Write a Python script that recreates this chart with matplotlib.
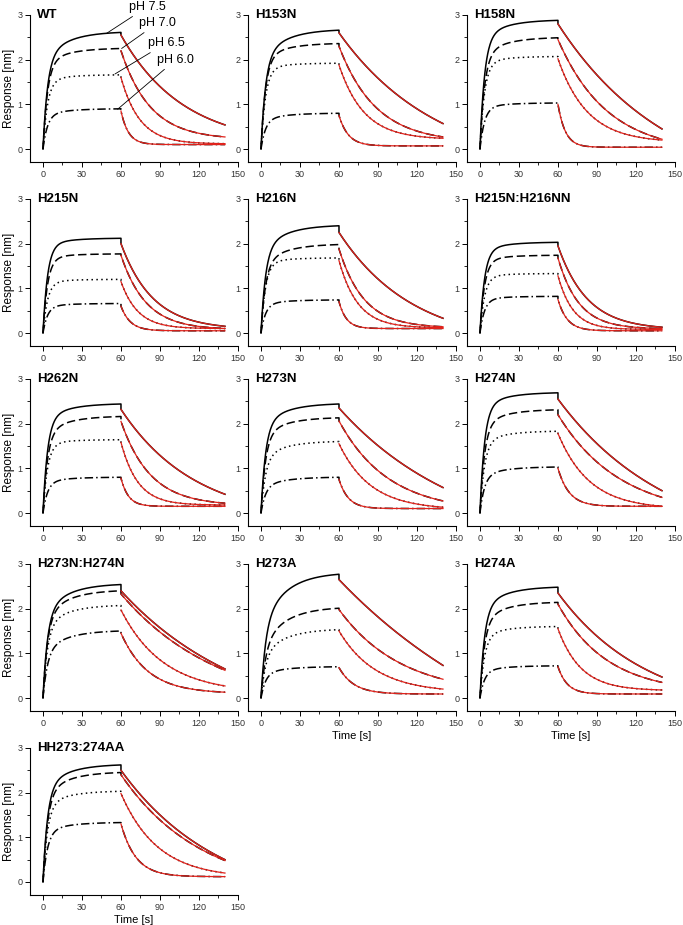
import numpy as np
import matplotlib
matplotlib.use("Agg")
import matplotlib.pyplot as plt

plt.rcParams['font.family'] = ['Liberation Sans', 'DejaVu Sans']

# ---------------- data ----------------
panels = ["WT", "H153N", "H158N", "H215N", "H216N", "H215N:H216NN",
          "H262N", "H273N", "H274N", "H273N:H274N", "H273A", "H274A",
          "HH273:274AA"]
ph_labels = ["pH 7.5", "pH 7.0", "pH 6.5", "pH 6.0"]

# response [nm] at end of association (60 s), per pH (7.5, 7.0, 6.5, 6.0)
peak_60s = [
    [2.61, 2.25, 1.66, 0.90], [2.66, 2.36, 1.92, 0.80], [2.88, 2.49, 2.07, 1.03],
    [2.12, 1.77, 1.20, 0.66], [2.40, 1.98, 1.68, 0.74], [2.03, 1.74, 1.33, 0.82],
    [2.44, 2.16, 1.64, 0.80], [2.44, 2.13, 1.60, 0.80], [2.69, 2.31, 1.83, 1.03],
    [2.54, 2.40, 2.07, 1.50], [2.77, 2.01, 1.53, 0.70], [2.48, 2.14, 1.60, 0.72],
    [2.62, 2.45, 2.03, 1.33]]
# response [nm] at 10 s of association
resp_10s = [
    [2.15, 1.95, 1.50, 0.78], [2.18, 2.05, 1.75, 0.68], [2.50, 2.14, 1.88, 0.92],
    [1.92, 1.62, 1.10, 0.59], [1.98, 1.64, 1.53, 0.65], [1.82, 1.58, 1.22, 0.74],
    [2.12, 1.84, 1.50, 0.70], [2.05, 1.80, 1.32, 0.65], [2.37, 2.00, 1.60, 0.87],
    [2.06, 1.95, 1.71, 1.18], [2.01, 1.45, 1.15, 0.58], [2.09, 1.80, 1.40, 0.62],
    [2.20, 2.05, 1.75, 1.15]]
# response [nm] at start of dissociation (just after 60 s)
diss_start = [
    [2.55, 2.20, 1.60, 0.85], [2.60, 2.30, 1.88, 0.75], [2.80, 2.45, 2.02, 1.00],
    [2.00, 1.74, 1.15, 0.60], [2.25, 1.88, 1.62, 0.70], [1.95, 1.68, 1.28, 0.75],
    [2.32, 2.05, 1.58, 0.78], [2.35, 2.06, 1.55, 0.75], [2.55, 2.20, 1.78, 1.00],
    [2.40, 2.33, 1.97, 1.45], [2.65, 1.98, 1.50, 0.68], [2.35, 2.10, 1.55, 0.70],
    [2.50, 2.40, 1.98, 1.30]]
# response [nm] at 140 s
resp_140s = [
    [0.54, 0.27, 0.12, 0.10], [0.57, 0.27, 0.24, 0.07], [0.45, 0.22, 0.20, 0.04],
    [0.15, 0.10, 0.10, 0.05], [0.33, 0.14, 0.12, 0.10], [0.13, 0.10, 0.08, 0.05],
    [0.42, 0.22, 0.18, 0.15], [0.57, 0.27, 0.13, 0.10], [0.50, 0.35, 0.15, 0.15],
    [0.65, 0.62, 0.27, 0.13], [0.73, 0.42, 0.20, 0.09], [0.47, 0.35, 0.18, 0.09],
    [0.50, 0.48, 0.20, 0.12]]
# seconds after 60 s to fall halfway from diss_start to resp_140s
half_time = [
    [25, 15, 10, 4], [30, 18, 13, 5], [31, 22, 15, 4],
    [16, 13, 9, 5], [27, 13, 10, 4], [15, 11, 8, 5],
    [27, 15, 9, 4], [32, 22, 16, 5], [31, 25, 16, 6],
    [32, 30, 20, 14], [35, 25, 18, 8], [29, 22, 12, 5],
    [30, 28, 18, 8]]

# ---------------- curve construction ----------------
TAU1, TAU2 = 3.5, 18.0


def association(t, p60, r10):
    c1, c2 = 1 - np.exp(-10 / TAU1), 1 - np.exp(-10 / TAU2)
    d1, d2 = 1 - np.exp(-60 / TAU1), 1 - np.exp(-60 / TAU2)
    det = c1 * d2 - c2 * d1
    a1 = (r10 * d2 - p60 * c2) / det
    a2 = (p60 * c1 - r10 * d1) / det
    return a1 * (1 - np.exp(-t / TAU1)) + a2 * (1 - np.exp(-t / TAU2))


def dissociation(t, r0, r140, th):
    n = 80.0 / th
    lo, hi = 0.5, 1 - 1e-9
    for _ in range(80):
        mid = 0.5 * (lo + hi)
        if mid ** n - 2 * mid + 1 > 0:
            lo = mid
        else:
            hi = mid
    u = 0.5 * (lo + hi)
    tau = -th / np.log(u)
    v = np.exp(-80 / tau)
    amp = (r0 - r140) / (1 - v)
    base = r0 - amp
    return base + amp * np.exp(-(t - 60) / tau)


styles = ['-', (0, (5.5, 2.5)), (0, (1, 2.2)), (0, (5.5, 2, 1, 2))]
RED = '#e0221b'

fig = plt.figure(figsize=(6.83, 9.25), dpi=100)
lefts = [0.0439, 0.3631, 0.6837]
bottoms = [0.8244, 0.6255, 0.4309, 0.2309, 0.0320]
W, H = 0.3045, 0.1594

t_ass = np.linspace(0, 60, 241)
t_dis = np.linspace(60, 140, 321)

for i, name in enumerate(panels):
    r, c = divmod(i, 3)
    ax = fig.add_axes([lefts[c], bottoms[r], W, H])
    for k in range(4):
        ya = association(t_ass, peak_60s[i][k], resp_10s[i][k])
        yd = dissociation(t_dis, diss_start[i][k], resp_140s[i][k], half_time[i][k])
        ax.plot(np.concatenate([t_ass, t_dis]), np.concatenate([ya, yd]),
                color='black', lw=1.1, linestyle=styles[k], zorder=2)
        ax.plot(t_dis, yd, color=RED, lw=0.9, zorder=3)
    ax.set_xlim(-10, 150)
    ax.set_ylim(-0.3, 3)
    ax.set_xticks([0, 30, 60, 90, 120, 150])
    ax.set_xticks(np.arange(15, 150, 30), minor=True)
    ax.set_yticks([0, 1, 2, 3])
    ax.set_yticks([0.5, 1.5, 2.5], minor=True)
    for s in ['top', 'right']:
        ax.spines[s].set_visible(False)
    for s in ['left', 'bottom']:
        ax.spines[s].set_linewidth(0.8)
    ax.tick_params(which='major', direction='out', length=3.5, width=0.7,
                   labelsize=6.5, colors='black', labelcolor='#333333', pad=2)
    ax.tick_params(which='minor', direction='out', length=2, width=0.6)
    ax.text(0.035, 1.0, name, transform=ax.transAxes, fontsize=9.5,
            fontweight='bold', ha='left', va='center')
    if c == 0:
        ax.set_ylabel('Response [nm]', fontsize=8.5, labelpad=2)
    if name in ("H273A", "H274A", "HH273:274AA"):
        ax.set_xlabel('Time [s]', fontsize=8, labelpad=2)
    if i == 0:
        ann = [((49, 2.59), (66, 3.18)), ((60.5, 2.25), (74, 2.82)),
               ((55.4, 1.68), (80.5, 2.37)), ((57.4, 0.89), (88, 2.0))]
        for k, (xy, xt) in enumerate(ann):
            ax.annotate(ph_labels[k], xy=xy, xytext=xt, fontsize=9,
                        ha='left', va='center', annotation_clip=False,
                        arrowprops=dict(arrowstyle='-', lw=0.6, color='black',
                                        shrinkA=1, shrinkB=0))

fig.savefig('out.png', dpi=100)
